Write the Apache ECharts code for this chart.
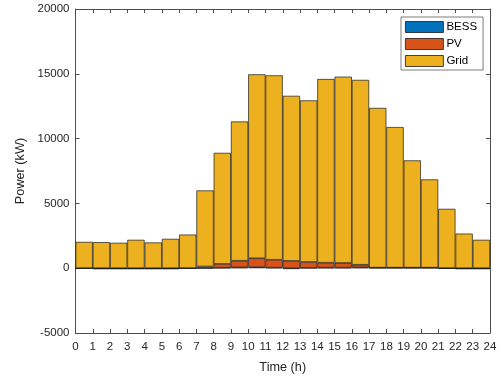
<!DOCTYPE html>
<html><head><meta charset="utf-8">
<script src="https://cdn.jsdelivr.net/npm/echarts@6/dist/echarts.min.js"></script>
<style>html,body{margin:0;padding:0;background:#fff}#c{width:504px;height:379px}</style>
</head><body><div id="c"></div>
<script>
const hours = [0,1,2,3,4,5,6,7,8,9,10,11,12,13,14,15,16,17,18,19,20,21,22,23];
const totalLoad = [2030,2010,1960,2190,1985,2265,2595,6000,8900,11320,14960,14880,13300,12950,14600,14780,14530,12370,10890,8320,6850,4580,2670,2190];
const pv = [0,0,0,0,0,0,0,130,300,510,690,610,560,460,380,360,200,0,0,0,0,0,0,0];
const bess = [0,-40,-40,-40,-40,-40,0,0,30,60,80,40,-60,20,40,40,60,40,40,40,40,0,-40,-40];
const xTicks = {min:0, max:24, interval:1};
const yTicks = {min:-5000, max:20000, interval:5000};
const grid = totalLoad.map((t,i)=> t - pv[i] - Math.max(bess[i],0));

const font = 'Liberation Sans, Arial, Helvetica, sans-serif';
const axCol = '#4d4d4d';
const txtCol = '#262626';
const mk = (name, arr, color) => ({
  name, type:'bar', stack:'p', data: arr, barCategoryGap:'0%',
  xAxisIndex:0, yAxisIndex:0,
  itemStyle:{color, borderColor:'#1a1a1a', borderWidth:0.7},
  emphasis:{disabled:true}
});
const plain = v => String(v);
const chart = echarts.init(document.getElementById('c'), null, {renderer:'canvas'});
chart.setOption({
  animation:false,
  grid:{left:75.5, right:14, top:9, bottom:44.5, containLabel:false},
  legend:{
    orient:'vertical', left:401, top:17, itemWidth:38, itemHeight:11, itemGap:5,
    padding:[4,6,3,4], backgroundColor:'#fff', borderColor:'#262626', borderWidth:0.6,
    icon:'rect',
    itemStyle:{borderColor:'#1a1a1a', borderWidth:0.8},
    textStyle:{fontFamily:font, fontSize:11.5, color:'#000', padding:[0,0,0,-2]},
    data:['BESS','PV','Grid']
  },
  xAxis:[{
    type:'category', data:hours, boundaryGap:true, show:false
  },{
    type:'value', position:'bottom', min:xTicks.min, max:xTicks.max, interval:xTicks.interval,
    name:'Time (h)', nameLocation:'middle', nameGap:28,
    nameTextStyle:{fontFamily:font, fontSize:12.7, color:txtCol},
    axisLine:{show:true, onZero:false, lineStyle:{color:axCol, width:1}},
    axisTick:{show:true, inside:true, length:4, lineStyle:{color:axCol}},
    axisLabel:{fontFamily:font, fontSize:11.5, color:txtCol, margin:8, formatter:plain},
    splitLine:{show:false}
  },{
    type:'value', position:'top', min:xTicks.min, max:xTicks.max, interval:xTicks.interval,
    axisLine:{show:true, onZero:false, lineStyle:{color:axCol, width:1}},
    axisTick:{show:true, inside:true, length:4, lineStyle:{color:axCol}},
    axisLabel:{show:false}, splitLine:{show:false}
  }],
  yAxis:[{
    type:'value', min:yTicks.min, max:yTicks.max, interval:yTicks.interval,
    name:'Power (kW)', nameLocation:'middle', nameGap:43,
    nameTextStyle:{fontFamily:font, fontSize:12.7, color:txtCol},
    axisLine:{show:true, onZero:false, lineStyle:{color:axCol, width:1}},
    axisTick:{show:true, inside:true, length:4, lineStyle:{color:axCol}},
    axisLabel:{fontFamily:font, fontSize:11.5, color:txtCol, margin:6, formatter:plain},
    splitLine:{show:false}
  },{
    type:'value', position:'right', min:yTicks.min, max:yTicks.max, interval:yTicks.interval,
    axisLine:{show:true, onZero:false, lineStyle:{color:axCol, width:1}},
    axisTick:{show:true, inside:true, length:4, lineStyle:{color:axCol}},
    axisLabel:{show:false}, splitLine:{show:false}
  }],
  series:[
    mk('BESS', bess, '#0072BD'),
    mk('PV', pv, '#D95319'),
    mk('Grid', grid, '#EDB120')
  ]
});
</script></body></html>
